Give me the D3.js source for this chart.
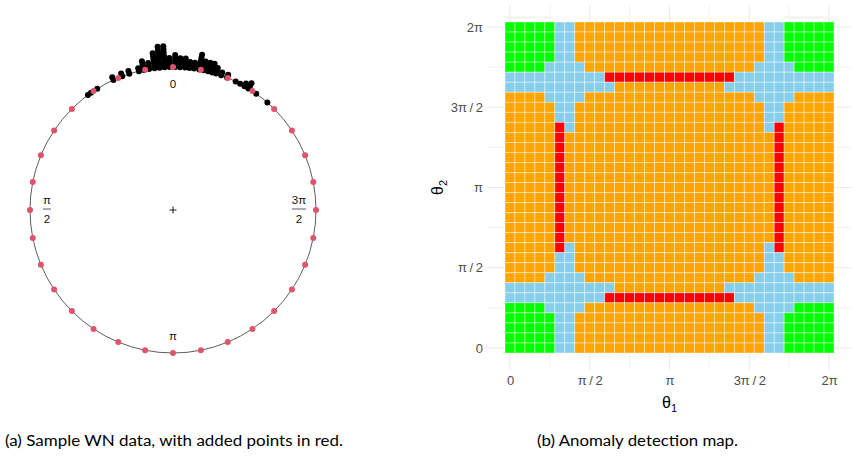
<!DOCTYPE html>
<html><head><meta charset="utf-8">
<script src="https://cdn.jsdelivr.net/npm/d3@7"></script>
<style>body{margin:0;background:#fff}svg{display:block}</style>
</head><body>
<svg id="c" width="858" height="457"></svg>
<script>
// ---------- (a) circular data ----------
// stacked WN sample: bin angle (degrees, counter-clockwise from top = 0) and number of stacked points
const wnAngles = [36.5, 35.0, 32.0, 24.6, 20.8, 17.8, 13.8, 11.8, 9.6, 7.4, 5.4, 3.4, 1.4, -0.8, -2.8, -4.8, -6.6, -8.5, -10.6, -12.4, -14.2, -15.9, -17.5, -19.7, -22.2, -26.0, -28.0, -30.0, -31.8, -35.6, -41.3];
const wnCounts = [1, 1, 1, 2, 2, 2, 2, 4, 3, 6, 8, 8, 4, 5, 4, 4, 3, 3, 6, 4, 4, 4, 3, 2, 2, 1, 1, 2, 3, 1, 1];
// added points (degrees)
const addedAngles = [0, 11.25, 22.5, 33.75, 45, 56.25, 67.5, 78.75, 90, 101.25, 112.5, 123.75, 135, 146.25, 157.5, 168.75,
  180, 191.25, 202.5, 213.75, 225, 236.25, 247.5, 258.75, 270, 281.25, 292.5, 303.75, 315, 326.25, 337.5, 348.75];
const circleLabels = [{a: 0, t: "0"}, {a: 90, num: "π", den: "2"}, {a: 180, t: "π"}, {a: 270, num: "3π", den: "2"}];

// ---------- (b) anomaly map ----------
const tileRows = [ // top row (θ2 = 2π) first, run-length coded
  "G5 B2 O19 B2 G5", "G5 B2 O19 B2 G5", "G5 B2 O19 B2 G5", "G5 B2 O19 B2 G5",
  "G4 B4 O17 B4 G4", "B10 R13 B10", "B11 O11 B11", "O4 B4 O17 B4 O4",
  "O5 B2 O19 B2 O5", "O5 B2 O19 B2 O5", "O5 R1 B1 O19 B1 R1 O5",
  "O5 R1 O21 R1 O5", "O5 R1 O21 R1 O5", "O5 R1 O21 R1 O5", "O5 R1 O21 R1 O5",
  "O5 R1 O21 R1 O5", "O5 R1 O21 R1 O5", "O5 R1 O21 R1 O5", "O5 R1 O21 R1 O5",
  "O5 R1 O21 R1 O5", "O5 R1 O21 R1 O5", "O5 R1 O21 R1 O5",
  "O5 R1 B1 O19 B1 R1 O5", "O5 B2 O19 B2 O5", "O5 B2 O19 B2 O5",
  "O4 B4 O17 B4 O4", "B11 O11 B11", "B10 R13 B10", "G4 B4 O17 B4 G4",
  "G5 B2 O19 B2 G5", "G5 B2 O19 B2 G5", "G5 B2 O19 B2 G5", "G5 B2 O19 B2 G5"
];
const tileColors = {G: "#00FF00", B: "#87CEEB", O: "#FFA500", R: "#FF0000"};
const tickValues = [0, Math.PI / 2, Math.PI, 3 * Math.PI / 2, 2 * Math.PI];
const tickLabels = ["0", "π\u2009/\u20092", "π", "3π\u2009/\u20092", "2π"];
const minorValues = [Math.PI / 4, 3 * Math.PI / 4, 5 * Math.PI / 4, 7 * Math.PI / 4];
const captions = ["(a) Sample WN data, with added points in red.", "(b) Anomaly detection map."];

const svg = d3.select("#c");

// ===== left panel =====
const cx = 173, cy = 210, R = 143, sep = 3.0;
const ang = d3.scaleLinear().domain([0, 360]).range([0, 2 * Math.PI]);
const rad = d3.scaleLinear().domain([0, 1]).range([R, R + sep]);
const px = (a, r) => cx - r * Math.sin(ang(a));
const py = (a, r) => cy - r * Math.cos(ang(a));
const L = svg.append("g");
L.append("circle").attr("cx", cx).attr("cy", cy).attr("r", R)
  .attr("fill", "none").attr("stroke", "#333").attr("stroke-width", 0.8);
// center cross
L.append("path").attr("d", `M${cx-3.5},${cy}H${cx+3.5}M${cx},${cy-3.5}V${cy+3.5}`)
  .attr("stroke", "#000").attr("stroke-width", 0.9);
const stacked = [];
wnAngles.forEach((a, i) => { for (let k = 0; k < wnCounts[i]; k++) stacked.push({a, k}); });
L.append("g").selectAll("circle").data(stacked).join("circle")
  .attr("cx", d => px(d.a, rad(d.k))).attr("cy", d => py(d.a, rad(d.k)))
  .attr("r", 3.0).attr("fill", "#000");
L.append("g").selectAll("circle").data(addedAngles).join("circle")
  .attr("cx", a => px(a, R)).attr("cy", a => py(a, R))
  .attr("r", 3.0).attr("fill", "#DF536B");
const lblR = 126;
circleLabels.forEach(l => {
  const x = px(l.a, lblR), y = py(l.a, lblR);
  const g = L.append("g").attr("font-family", "Liberation Sans, Arial, sans-serif").attr("font-size", 11.5).attr("fill", "#111").attr("text-anchor", "middle");
  if (l.t) {
    g.append("text").attr("x", x).attr("y", y + 4).text(l.t);
  } else {
    g.append("text").attr("x", x).attr("y", y - 6).text(l.num);
    g.append("line").attr("x1", x - (l.num.length > 1 ? 7 : 4)).attr("x2", x + (l.num.length > 1 ? 7 : 4))
      .attr("y1", y - 1).attr("y2", y - 1).attr("stroke", "#111").attr("stroke-width", 0.7);
    g.append("text").attr("x", x).attr("y", y + 13).text(l.den);
  }
});

// ===== right panel =====
const x = d3.scaleLinear().domain([0, 2 * Math.PI]).range([510, 829]);
const y = d3.scaleLinear().domain([0, 2 * Math.PI]).range([348, 27]);
const n = tileRows.length, step = 2 * Math.PI / (n - 1);
const pad = 17;
const panel = {x0: x(-step / 2) - pad, x1: x(2 * Math.PI + step / 2) + pad, y0: y(2 * Math.PI + step / 2) - pad, y1: y(-step / 2) + pad};
const Rg = svg.append("g");
// grid
const gridCol = "#EBEBEB";
minorValues.forEach(v => {
  Rg.append("line").attr("x1", x(v)).attr("x2", x(v)).attr("y1", panel.y0).attr("y2", panel.y1).attr("stroke", gridCol).attr("stroke-width", 0.6);
  Rg.append("line").attr("y1", y(v)).attr("y2", y(v)).attr("x1", panel.x0).attr("x2", panel.x1).attr("stroke", gridCol).attr("stroke-width", 0.6);
});
tickValues.forEach(v => {
  Rg.append("line").attr("x1", x(v)).attr("x2", x(v)).attr("y1", panel.y0).attr("y2", panel.y1).attr("stroke", gridCol).attr("stroke-width", 1.1);
  Rg.append("line").attr("y1", y(v)).attr("y2", y(v)).attr("x1", panel.x0).attr("x2", panel.x1).attr("stroke", gridCol).attr("stroke-width", 1.1);
});
// tiles
const tiles = [];
tileRows.forEach((row, r) => {
  let c = 0;
  row.split(" ").forEach(tok => {
    const code = tok[0], len = +tok.slice(1);
    for (let k = 0; k < len; k++) { tiles.push({i: c, j: n - 1 - r, code}); c++; }
  });
});
const w = x(step) - x(0), h = y(0) - y(step);
Rg.append("g").selectAll("rect").data(tiles).join("rect")
  .attr("x", d => x(d.i * step) - w / 2).attr("y", d => y(d.j * step) - h / 2)
  .attr("width", w).attr("height", h)
  .attr("fill", d => tileColors[d.code])
  .attr("stroke", "#fff").attr("stroke-opacity", 0.6).attr("stroke-width", 0.7);
// axes
const fontAx = "Liberation Sans, Arial, sans-serif";
const xa = Rg.append("g").attr("transform", `translate(0,${panel.y1 + 4})`)
  .call(d3.axisBottom(x).tickValues(tickValues).tickFormat((d, i) => tickLabels[i]).tickSize(0).tickPadding(2));
const ya = Rg.append("g").attr("transform", `translate(${panel.x0 - 4},0)`)
  .call(d3.axisLeft(y).tickValues(tickValues).tickFormat((d, i) => tickLabels[i]).tickSize(0).tickPadding(1));
[xa, ya].forEach(a => {
  a.select(".domain").remove();
  a.selectAll("text").attr("font-family", fontAx).attr("font-size", 13).attr("fill", "#4D4D4D");
});
const xt = Rg.append("text").attr("x", x(Math.PI)).attr("y", 408).attr("text-anchor", "middle")
  .attr("font-family", fontAx).attr("font-size", 16).attr("fill", "#000");
xt.append("tspan").text("θ");
xt.append("tspan").attr("font-size", 11).attr("dy", 4).text("1");
const yt = Rg.append("text").attr("transform", `translate(443,${y(Math.PI)}) rotate(-90)`).attr("text-anchor", "middle")
  .attr("font-family", fontAx).attr("font-size", 16).attr("fill", "#000");
yt.append("tspan").text("θ");
yt.append("tspan").attr("font-size", 11).attr("dy", 4).text("2");

// captions
const capX = [5, 537], capW = [338, 201];
captions.forEach((t, i) => {
  svg.append("text").attr("x", capX[i]).attr("y", 446).attr("font-family", "Lato, Open Sans, sans-serif")
    .attr("font-size", 14.5).attr("fill", "#000").attr("textLength", capW[i]).attr("lengthAdjust", "spacingAndGlyphs").text(t);
});
</script>
</body></html>
